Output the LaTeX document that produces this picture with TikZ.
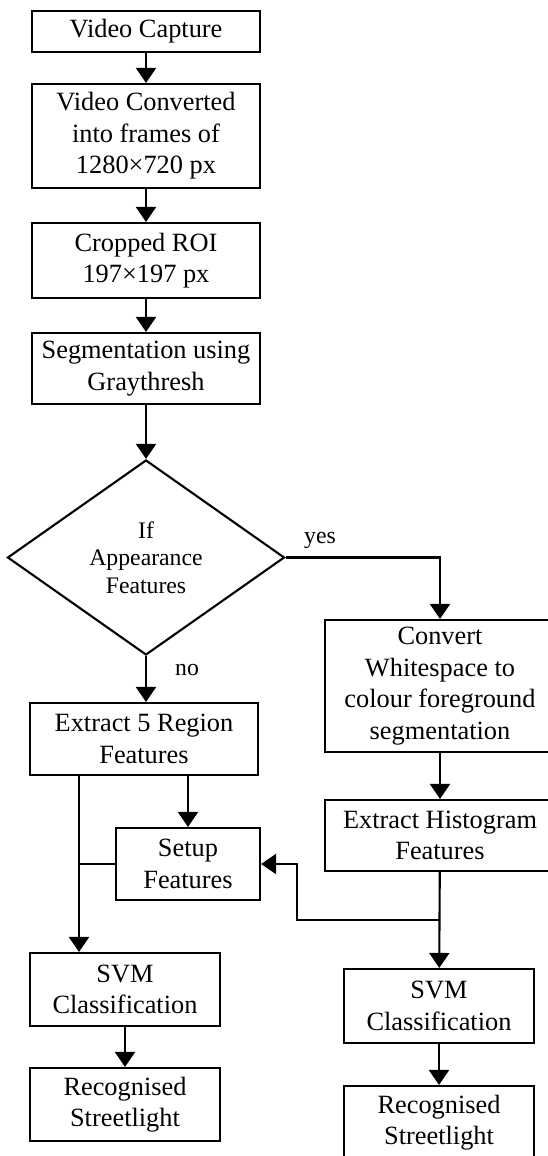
\documentclass[tikz,border=0pt]{standalone}
\usepackage{fontspec}
\setmainfont{Liberation Serif}
\usetikzlibrary{shapes.geometric,arrows.meta}

\begin{document}
\begin{tikzpicture}
  [x=0.2mm,y=-0.2mm,line width=1.2pt,>={Triangle[width=4mm,length=3mm]},
   every node/.style={align=center,inner sep=0pt,font=\fontsize{15}{17.9}\selectfont},
   blk/.style={draw,rectangle},
   small/.style={font=\fontsize{13.5}{15.6}\selectfont}]
  \useasboundingbox (0,0) rectangle (548,1156);

  % left column
  \node[blk,minimum width=45.6mm,minimum height=8.2mm] (cap) at (146,31.5) {Video Capture};
  \node[blk,minimum width=45.6mm,minimum height=20.8mm] (conv) at (146,136) {Video Converted\\into frames of\\1280×720 px};
  \node[blk,minimum width=45.6mm,minimum height=15mm] (roi) at (146,260.5) {Cropped ROI\\197×197 px};
  \node[blk,minimum width=45.6mm,minimum height=14.2mm] (seg) at (146,368.5) {Segmentation using\\Graythresh};
  \node[draw,diamond,aspect=1.42,small,minimum width=55.4mm,minimum height=39mm] (dec) at (146,557.5) {If\\Appearance\\Features};
  \node[blk,minimum width=45.6mm,minimum height=14.4mm] (ext5) at (144,739) {Extract 5 Region\\Features};
  \node[blk,minimum width=28.8mm,minimum height=14.4mm] (setup) at (188,864) {Setup\\Features};
  \node[blk,minimum width=38mm,minimum height=14.6mm] (svm1) at (125,989.5) {SVM\\Classification};
  \node[blk,minimum width=38mm,minimum height=14.6mm] (rec1) at (125,1104.5) {Recognised\\Streetlight};

  % right column
  \node[blk,minimum width=46mm,minimum height=26.4mm] (cws) at (440,686) {Convert\\Whitespace to\\colour foreground\\segmentation};
  \node[blk,minimum width=46mm,minimum height=14.2mm] (hist) at (440,835.5) {Extract Histogram\\Features};
  \node[blk,minimum width=38mm,minimum height=14.8mm] (svm2) at (439,1006) {SVM\\Classification};
  \node[blk,minimum width=38mm,minimum height=14.6mm] (rec2) at (439,1122.5) {Recognised\\Streetlight};

  % labels
  \node[small] (yes) at (320,540) {yes};
  \node[small] (no) at (187,670) {no};

  \coordinate (lft) at (79,864);
  \coordinate (rgt) at (297,920);

  \foreach \from/\to in {cap/conv,conv/roi,roi/seg,seg/dec,svm1/rec1,cws/hist,hist/svm2,svm2/rec2}
    \draw[->] (\from) -- (\to);

  \draw[->] (dec.south) -- (dec.south |- ext5.north);
  \draw[->] (dec.east) -| (cws.north);
  \draw[->] (ext5.south -| setup.north) -- (setup.north);
  \draw[->] (ext5.south -| lft) -- (svm1.north -| lft);
  \draw (lft) -- (setup.west);
  \draw[->] (hist.south |- rgt) -- (rgt) -- (rgt |- setup.east) -- (setup.east);

\end{tikzpicture}
\end{document}
